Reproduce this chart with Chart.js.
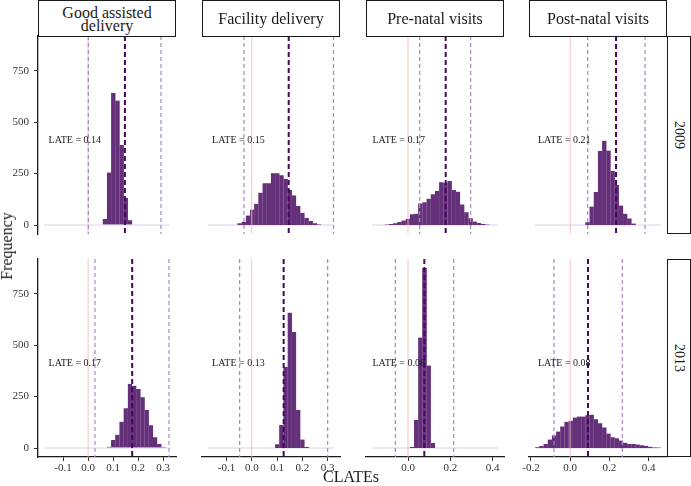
<!DOCTYPE html>
<html>
<head>
<meta charset="utf-8">
<script src="https://cdn.jsdelivr.net/npm/chart.js@4.4.1/dist/chart.umd.min.js"></script>
<style>
body { margin: 0; background: #fff; }
#wrap { position: relative; width: 691px; height: 486px; overflow: hidden; font-family: "Liberation Serif", serif; color: #1a1a1a; }
#wrap canvas { position: absolute; }
.strip { position: absolute; box-sizing: border-box; border: 1px solid #1a1a1a; background: #fff;
  display: flex; align-items: center; justify-content: center; text-align: center; font-size: 16px; line-height: 13px; }
.side { writing-mode: vertical-rl; font-size: 14px; line-height: 14px; }
.lab { position: absolute; white-space: nowrap; font-size: 16px; }
</style>
</head>
<body>
<div id="wrap"></div>
<script>
// facets
const outcomes = ['Good assisted<br>delivery', 'Facility delivery', 'Pre-natal visits', 'Post-natal visits'];
const years = ['2009', '2013'];

// histogram bins: 30 bins between binLo and binHi for each column
const nBins = 30;
const binLo = [-0.175, -0.172, -0.169, -0.178];
const binHi = [0.326, 0.324, 0.424, 0.462];

// bin counts
const counts2009 = [
  [0,0,0,0,0,0,0,0,0,0,0,0,0,0,29,255,642,605,389,131,23,3,0,0,0,0,0,0,0,0],
  [0,0,0,0,0,0,0,8,16,46,75,103,157,203,203,252,252,242,225,170,144,92,59,34,20,8,3,0,0,0],
  [0,0,0,2,5,8,15,22,30,52,55,105,110,128,150,165,208,205,214,170,162,100,62,33,17,10,5,2,0,0],
  [0,0,0,0,0,0,0,0,0,0,0,0,13,90,160,360,410,362,262,195,95,55,32,7,0,0,0,0,0,0]
];
const counts2013 = [
  [0,0,0,0,0,0,0,0,0,0,0,0,0,0,0,6,39,65,128,193,312,303,287,247,185,110,52,19,5,2],
  [0,0,0,0,0,0,0,0,0,0,0,0,0,0,0,0,18,112,395,658,564,186,41,5,0,0,0,0,0,0],
  [0,0,0,0,0,0,0,0,0,5,136,537,875,401,24,0,0,0,0,0,0,0,0,0,0,0,0,0,0,0],
  [4,10,20,41,61,80,105,127,133,148,153,153,159,162,140,120,100,70,52,47,36,26,20,19,17,13,11,6,3,2]
];

// LATE labels and reference lines (lower bound, centre, upper bound)
const late2009 = ['0.14', '0.15', '0.17', '0.21'];
const late2013 = ['0.17', '0.13', '0.08', '0.08'];
const lower2009 = [0.001, -0.031, 0.055, 0.0895];
const centre2009 = [0.147, 0.146, 0.178, 0.234];
const upper2009 = [0.291, 0.323, 0.296, 0.382];
const lower2013 = [0.0275, -0.048, -0.060, -0.0825];
const centre2013 = [0.176, 0.126, 0.077, 0.091];
const upper2013 = [0.323, 0.300, 0.216, 0.266];
const labelX = [-0.053, -0.053, -0.044, -0.030];
const labelY = 410;

// axes
const xTicks = [[-0.1, 0, 0.1, 0.2, 0.3], [-0.1, 0, 0.1, 0.2, 0.3], [0, 0.2, 0.4], [-0.2, 0, 0.2, 0.4]];
const yTicks = [0, 250, 500, 750];
const yMax = 875;

// layout (pixels)
const colLeft = [38, 202, 366, 529];
const rowTop = [36, 259];
const W = 138, H = 198, P = 12, yAxisW = 38, xAxisH = 29;

Chart.defaults.font.family = '"Liberation Serif", serif';

const wrap = document.getElementById('wrap');

const panelMarks = {
  id: 'panelMarks',
  beforeDatasetsDraw(chart, args, o) {
    const { ctx, scales: { x, y } } = chart;
    // zero count bins show as a flat outline
    ctx.save();
    ctx.strokeStyle = '#ddd0e4';
    ctx.lineWidth = 1;
    ctx.beginPath();
    ctx.moveTo(x.getPixelForValue(o.lo), y.getPixelForValue(0));
    ctx.lineTo(x.getPixelForValue(o.hi), y.getPixelForValue(0));
    ctx.stroke();
    ctx.restore();
  },
  afterDatasetsDraw(chart, args, o) {
    const { ctx, chartArea: a, scales: { x, y } } = chart;
    const vline = (v, color, w, dash) => {
      const px = x.getPixelForValue(v);
      ctx.save();
      ctx.strokeStyle = color;
      ctx.lineWidth = w;
      ctx.setLineDash(dash);
      ctx.beginPath();
      ctx.moveTo(px, a.top);
      ctx.lineTo(px, a.bottom);
      ctx.stroke();
      ctx.restore();
    };
    vline(0, '#f5bcbc', 0.9, []);
    vline(o.lower, '#a88abd', 1.2, [4, 3]);
    vline(o.upper, '#a88abd', 1.2, [4, 3]);
    vline(o.centre, '#47075c', 2, [5, 3]);
    ctx.save();
    ctx.font = '10px "Liberation Serif"';
    ctx.fillStyle = '#1a1a1a';
    ctx.textAlign = 'center';
    ctx.textBaseline = 'middle';
    ctx.fillText('LATE = ' + o.text, x.getPixelForValue(o.lx), y.getPixelForValue(o.ly));
    ctx.restore();
  }
};

function drawPanel(r, c) {
  const counts = r === 0 ? counts2009[c] : counts2013[c];
  const bw = (binHi[c] - binLo[c]) / nBins;
  const pts = counts.map((n, i) => ({ x: binLo[c] + (i + 0.5) * bw, y: n }));
  const pad = 0.05 * (binHi[c] - binLo[c]);
  const showY = c === 0, showX = r === 1;

  const cw = W + (showY ? yAxisW : 0) + 2 * P;
  const ch = H + (showX ? xAxisH : 0) + 2 * P;
  const cv = document.createElement('canvas');
  cv.width = cw; cv.height = ch;
  cv.style.width = cw + 'px'; cv.style.height = ch + 'px';
  cv.style.left = (colLeft[c] - (showY ? yAxisW : 0) - P) + 'px';
  cv.style.top = (rowTop[r] - P) + 'px';
  wrap.appendChild(cv);

  const tickFont = { family: '"Liberation Serif"', size: 11 };
  const xScale = {
    type: 'linear', min: binLo[c] - pad, max: binHi[c] + pad, offset: false,
    display: showX,
    afterBuildTicks: s => { s.ticks = xTicks[c].map(v => ({ value: v })); },
    grid: { display: true, drawOnChartArea: false, drawTicks: true, tickLength: 4, color: '#333', offset: false },
    border: { display: true, color: '#1a1a1a', width: 1.3 },
    ticks: { autoSkip: false, maxRotation: 0, padding: 1, color: '#333', font: tickFont,
      callback: v => v.toFixed(1) }
  };
  if (showX) xScale.afterFit = s => { s.height = xAxisH; };
  const yScale = {
    min: -0.05 * yMax, max: 1.05 * yMax,
    display: showY,
    afterBuildTicks: s => { s.ticks = yTicks.map(v => ({ value: v })); },
    grid: { display: true, drawOnChartArea: false, drawTicks: true, tickLength: 4, color: '#333' },
    border: { display: true, color: '#1a1a1a', width: 1.3 },
    ticks: { padding: 5, color: '#333', font: tickFont, callback: v => String(v) }
  };
  if (showY) yScale.afterFit = s => { s.width = yAxisW; };

  new Chart(cv, {
    type: 'bar',
    data: {
      datasets: [{
        data: pts,
        backgroundColor: '#65307a',
        borderColor: 'rgba(150,110,170,0.7)',
        borderWidth: { left: 0.3, right: 0.3, top: 0, bottom: 0 },
        borderSkipped: false,
        barPercentage: 1,
        categoryPercentage: 1
      }]
    },
    options: {
      responsive: false,
      animation: false,
      layout: { padding: P },
      scales: { x: xScale, y: yScale },
      plugins: {
        legend: { display: false },
        tooltip: { enabled: false },
        panelMarks: {
          lo: binLo[c], hi: binHi[c],
          lower: r === 0 ? lower2009[c] : lower2013[c],
          centre: r === 0 ? centre2009[c] : centre2013[c],
          upper: r === 0 ? upper2009[c] : upper2013[c],
          text: r === 0 ? late2009[c] : late2013[c],
          lx: labelX[c], ly: labelY
        }
      }
    },
    plugins: [panelMarks]
  });
}

for (let r = 0; r < 2; r++) {
  for (let c = 0; c < 4; c++) drawPanel(r, c);
}

// strips
outcomes.forEach((t, c) => {
  const d = document.createElement('div');
  d.className = 'strip';
  d.style.left = colLeft[c] + 'px'; d.style.top = '0px';
  d.style.width = W + 'px'; d.style.height = '37px';
  d.innerHTML = t;
  wrap.appendChild(d);
});
years.forEach((t, r) => {
  const d = document.createElement('div');
  d.className = 'strip side';
  d.style.left = '667px'; d.style.top = rowTop[r] + 'px';
  d.style.width = '24px'; d.style.height = H + 'px';
  d.textContent = t;
  wrap.appendChild(d);
});

// axis titles
const yt = document.createElement('div');
yt.className = 'lab';
yt.textContent = 'Frequency';
yt.style.left = '7px'; yt.style.top = '246px';
yt.style.transform = 'translate(-50%,-50%) rotate(-90deg)';
wrap.appendChild(yt);
const xt = document.createElement('div');
xt.className = 'lab';
xt.textContent = 'CLATEs';
xt.style.left = '351px'; xt.style.top = '477px';
xt.style.transform = 'translate(-50%,-50%)';
wrap.appendChild(xt);
</script>
</body>
</html>
